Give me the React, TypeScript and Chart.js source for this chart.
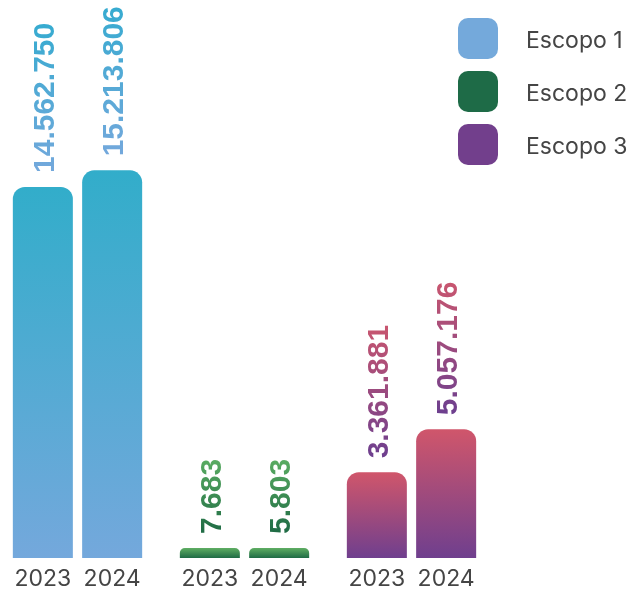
import React, { useEffect, useRef } from "react";
import { Chart, registerables } from "chart.js";

Chart.register(...registerables);

// ---- data ----
const scopes = ["Escopo 1", "Escopo 2", "Escopo 3"];
const years = ["2023", "2024"];
const values2023 = [14562750, 7683, 3361881];
const values2024 = [15213806, 5803, 5057176];

// ---- colours (per scope) ----
const barTop = ["#32adca", "#5fae63", "#d0566b"];
const barBottom = ["#74a8dc", "#1f6b45", "#6f3f8e"];
const labelTop = ["#36abd0", "#5aac62", "#c9566f"];
const labelBottom = ["#74a8dc", "#1e6a44", "#6c3f8f"];
const legendColors = ["#74a9db", "#1e6b47", "#723f8c"];

const MIN_BAR = 10;
const VALUE_FONT_SIZE = 30;
const TEXT_COLOR = "#454545";

function fmt(v: number): string {
  return String(v).replace(/\B(?=(\d{3})+(?!\d))/g, ".");
}

function barGradient(ctx: any) {
  const chart = ctx.chart;
  const i = ctx.dataIndex ?? 0;
  const y = chart.scales && chart.scales.y;
  if (!chart.chartArea || !y || ctx.type !== "data") return barBottom[i];
  const v = ctx.raw as number;
  const base = y.getPixelForValue(0);
  let top = y.getPixelForValue(v);
  if (base - top < MIN_BAR) top = base - MIN_BAR;
  const g = chart.ctx.createLinearGradient(0, top, 0, base);
  g.addColorStop(0, barTop[i]);
  g.addColorStop(1, barBottom[i]);
  return g;
}

const valueLabels = {
  id: "valueLabels",
  afterDatasetsDraw(chart: any) {
    const ctx = chart.ctx as CanvasRenderingContext2D;
    chart.data.datasets.forEach((ds: any, di: number) => {
      const meta = chart.getDatasetMeta(di);
      meta.data.forEach((el: any, i: number) => {
        const text = fmt(ds.data[i] as number);
        ctx.save();
        ctx.font = `bold ${VALUE_FONT_SIZE}px "Liberation Sans", Arial, sans-serif`;
        const w = ctx.measureText(text).width;
        ctx.translate(el.x, el.y - 14);
        ctx.rotate(-Math.PI / 2);
        const g = ctx.createLinearGradient(0, 0, w, 0);
        g.addColorStop(0, labelBottom[i]);
        g.addColorStop(1, labelTop[i]);
        ctx.fillStyle = g;
        ctx.textAlign = "left";
        ctx.textBaseline = "alphabetic";
        ctx.fillText(text, 0, (0.716 * VALUE_FONT_SIZE) / 2);
        ctx.restore();
      });
    });
  },
};

const yearLabels = {
  id: "yearLabels",
  afterDatasetsDraw(chart: any) {
    const ctx = chart.ctx as CanvasRenderingContext2D;
    chart.data.datasets.forEach((ds: any, di: number) => {
      const meta = chart.getDatasetMeta(di);
      meta.data.forEach((el: any) => {
        ctx.save();
        ctx.font = '23px Inter, "Noto Sans", sans-serif';
        ctx.fillStyle = TEXT_COLOR;
        ctx.textAlign = "center";
        ctx.textBaseline = "alphabetic";
        ctx.fillText(ds.label, el.x, el.base + 28);
        ctx.restore();
      });
    });
  },
};

export default function App() {
  const ref = useRef<HTMLCanvasElement | null>(null);

  useEffect(() => {
    if (!ref.current) return;
    const chart = new Chart(ref.current, {
      type: "bar",
      data: {
        labels: scopes,
        datasets: [
          { label: years[0], data: values2023, backgroundColor: barGradient as any },
          { label: years[1], data: values2024, backgroundColor: barGradient as any },
        ],
      },
      options: {
        responsive: false,
        animation: false,
        layout: { padding: { left: 0, right: 135, top: 0, bottom: 32 } },
        datasets: {
          bar: {
            categoryPercentage: 0.83,
            barPercentage: 0.866,
            borderRadius: 12,
            borderSkipped: "bottom",
            minBarLength: MIN_BAR,
          },
        },
        scales: {
          x: { display: false, offset: true },
          y: { display: false, min: 0, max: 21900000 },
        },
        plugins: {
          legend: { display: false },
          tooltip: { enabled: false },
        },
      } as any,
      plugins: [valueLabels, yearLabels],
    });
    return () => chart.destroy();
  }, []);

  return (
    <div
      style={{
        position: "absolute",
        left: 0,
        top: 0,
        width: 630,
        height: 590,
        overflow: "hidden",
        background: "#ffffff",
      }}
    >
      <canvas
        ref={ref}
        width={636}
        height={590}
        style={{ position: "absolute", left: -6, top: 0 }}
      />
      {scopes.map((s, i) => (
        <React.Fragment key={s}>
          <div
            style={{
              position: "absolute",
              left: 458,
              top: 18 + i * 53,
              width: 40,
              height: 41,
              borderRadius: 10,
              background: legendColors[i],
            }}
          />
          <div
            style={{
              position: "absolute",
              left: 526,
              top: 20 + i * 53,
              height: 41,
              lineHeight: "41px",
              fontFamily: 'Inter, "Noto Sans", sans-serif',
              fontSize: 23,
              color: TEXT_COLOR,
              whiteSpace: "nowrap",
            }}
          >
            {s}
          </div>
        </React.Fragment>
      ))}
    </div>
  );
}
